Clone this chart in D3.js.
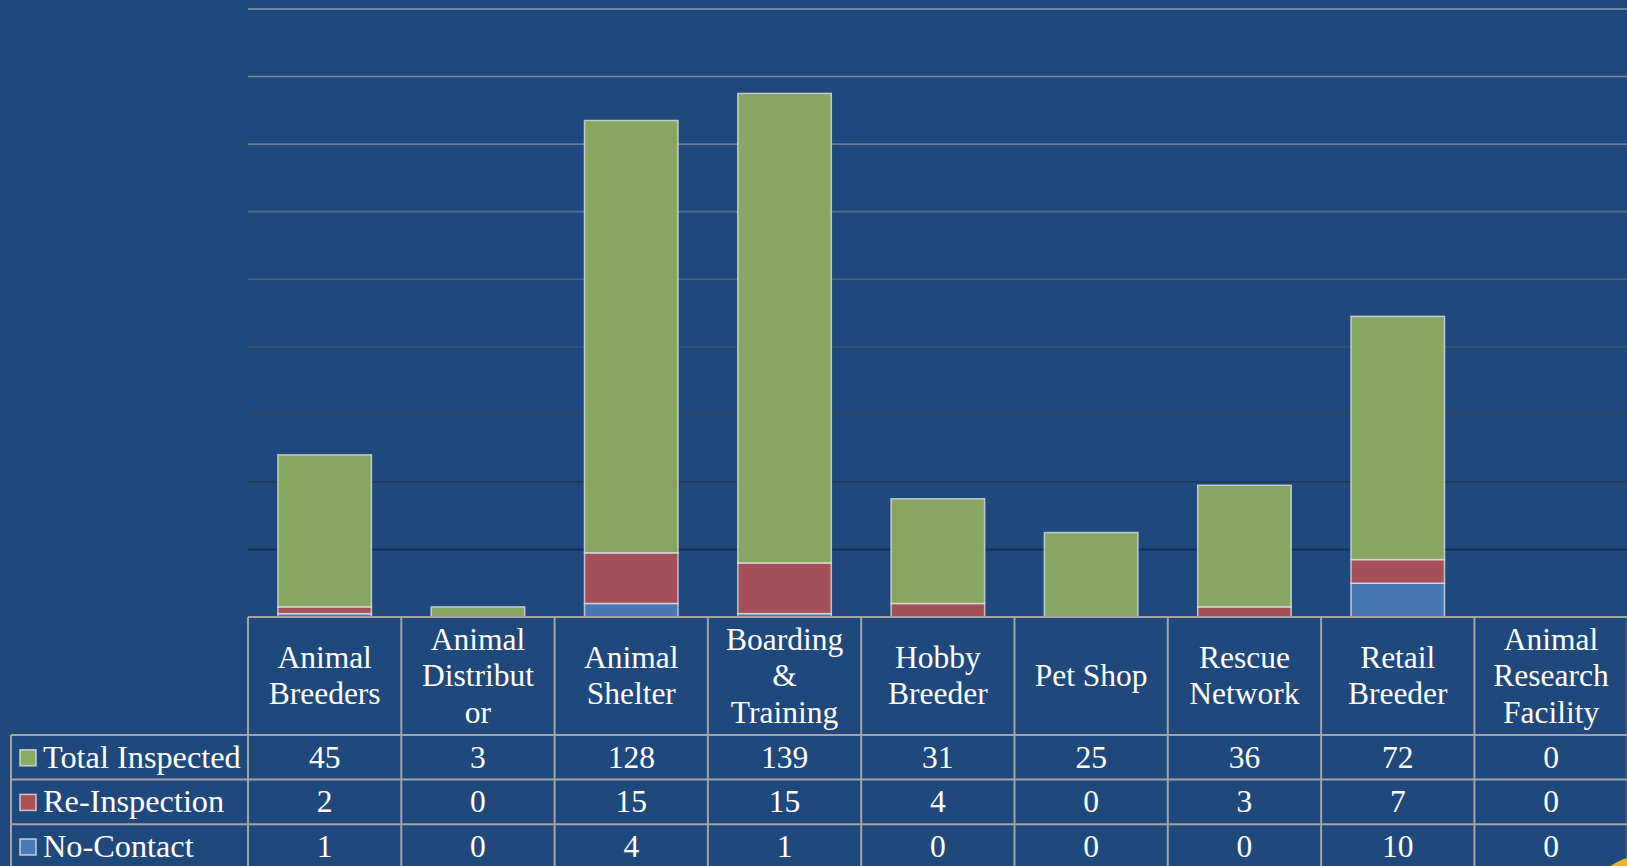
<!DOCTYPE html>
<html>
<head>
<meta charset="utf-8">
<script src="https://cdn.jsdelivr.net/npm/d3@7"></script>
<style>
  body { margin: 0; background: #1F497D; overflow: hidden; }
  svg { display: block; }
  text { font-family: "Liberation Serif", "Times New Roman", serif; fill: #fff; }
</style>
</head>
<body>
<svg id="chart" width="1627" height="866"></svg>
<script>
// data
var categories = ["Animal Breeders", "Animal Distributor", "Animal Shelter", "Boarding & Training",
  "Hobby Breeder", "Pet Shop", "Rescue Network", "Retail Breeder", "Animal Research Facility"];
// how each header cell wraps
var categoryLines = [["Animal", "Breeders"], ["Animal", "Distribut", "or"], ["Animal", "Shelter"],
  ["Boarding", "&", "Training"], ["Hobby", "Breeder"], ["Pet Shop"], ["Rescue", "Network"],
  ["Retail", "Breeder"], ["Animal", "Research", "Facility"]];
var seriesNames = ["Total Inspected", "Re-Inspection", "No-Contact"];
var totalInspected = [45, 3, 128, 139, 31, 25, 36, 72, 0];
var reInspection = [2, 0, 15, 15, 4, 0, 3, 7, 0];
var noContact = [1, 0, 4, 1, 0, 0, 0, 10, 0];
var gridTicks = [20, 40, 60, 80, 100, 120, 140, 160, 180];

var colors = {"Total Inspected": "#8CAA60", "Re-Inspection": "#AB5056", "No-Contact": "#4B7BB7"};

var svg = d3.select("#chart");

// layout
var plotLeft = 248, plotRight = 1627.7,
    plotTop = 9, baseY = 617,
    headerH = 118, rowH = 44.6,
    legendLeft = 11,
    fontSize = "31.5px";

var x = d3.scaleBand()
  .domain(d3.range(categories.length))
  .range([plotLeft, plotRight])
  .paddingInner(0.39)
  .paddingOuter(0.195);
var step = x.step();

var y = d3.scaleLinear().domain([0, 180]).range([baseY, plotTop]);

// gridlines fade from light (top) to dark (bottom)
var gridColor = d3.scaleLinear().domain([20, 180]).range(["#132A4C", "#8598B2"]).interpolate(d3.interpolateRgb);
svg.append("g").selectAll("line")
  .data(gridTicks)
  .enter().append("line")
    .attr("x1", plotLeft).attr("x2", plotRight)
    .attr("y1", function(d) { return y(d); })
    .attr("y2", function(d) { return y(d); })
    .attr("stroke", function(d) { return gridColor(d); })
    .attr("stroke-width", 1.6);

// stacked bars, No-Contact at the bottom
var rows = categories.map(function(c, i) {
  return {"cat": i, "Total Inspected": totalInspected[i], "Re-Inspection": reInspection[i], "No-Contact": noContact[i]};
});
var stack = d3.stack().keys(["No-Contact", "Re-Inspection", "Total Inspected"]);
var layers = stack(rows);

svg.append("g").selectAll("g")
  .data(layers)
  .enter().append("g")
    .attr("fill", function(d) { return colors[d.key]; })
  .selectAll("rect")
  .data(function(d) { return d.filter(function(s) { return s[1] - s[0] > 0; }); })
  .enter().append("rect")
    .attr("x", function(d) { return x(d.data.cat); })
    .attr("width", x.bandwidth())
    .attr("y", function(d) { return y(d[1]); })
    .attr("height", function(d) { return y(d[0]) - y(d[1]); })
    .attr("fill-opacity", 0.96)
    .attr("stroke", "rgba(225,230,235,0.75)")
    .attr("stroke-width", 1.5);

// data table
var table = svg.append("g");
var border = "#A3A3A3";
var rowTop = baseY + headerH;
var tableBottom = rowTop + rowH * 3;

// horizontal lines
table.append("line").attr("x1", plotLeft).attr("x2", plotRight)
  .attr("y1", baseY).attr("y2", baseY).attr("stroke", border).attr("stroke-width", 2.2);
d3.range(4).forEach(function(r) {
  var yy = rowTop + r * rowH;
  table.append("line").attr("x1", legendLeft).attr("x2", plotRight)
    .attr("y1", yy).attr("y2", yy).attr("stroke", border).attr("stroke-width", 2);
});
// vertical lines
table.append("line").attr("x1", legendLeft).attr("x2", legendLeft)
  .attr("y1", rowTop).attr("y2", tableBottom).attr("stroke", border).attr("stroke-width", 2);
d3.range(categories.length + 1).forEach(function(c) {
  var xx = plotLeft + c * step;
  table.append("line").attr("x1", xx).attr("x2", xx)
    .attr("y1", baseY).attr("y2", tableBottom).attr("stroke", border).attr("stroke-width", 2);
});

// header labels
var headerMid = baseY + headerH / 2;
categoryLines.forEach(function(lines, i) {
  var cx = plotLeft + (i + 0.5) * step;
  var t = table.append("text")
    .attr("text-anchor", "middle")
    .attr("font-size", fontSize);
  lines.forEach(function(l, k) {
    t.append("tspan")
      .attr("x", cx)
      .attr("y", headerMid + 10 + (k - (lines.length - 1) / 2) * 36.5)
      .text(l);
  });
});

// series rows with legend keys
var seriesValues = [totalInspected, reInspection, noContact];
seriesNames.forEach(function(name, r) {
  var mid = rowTop + (r + 0.5) * rowH;
  table.append("rect")
    .attr("x", 20).attr("y", mid - 7.5)
    .attr("width", 16).attr("height", 16)
    .attr("fill", colors[name])
    .attr("stroke", "rgba(225,230,235,0.8)")
    .attr("stroke-width", 1.5);
  table.append("text")
    .attr("x", 43).attr("y", mid + 10.5)
    .attr("font-size", "32.3px")
    .text(name);
  seriesValues[r].forEach(function(v, i) {
    table.append("text")
      .attr("x", plotLeft + (i + 0.5) * step)
      .attr("y", mid + 10.5)
      .attr("text-anchor", "middle")
      .attr("font-size", fontSize)
      .text(v);
  });
});

// corner of a gold seal peeking in at bottom right
svg.append("circle")
  .attr("cx", 1661).attr("cy", 952).attr("r", 100)
  .attr("fill", "#F4B120");
</script>
</body>
</html>
